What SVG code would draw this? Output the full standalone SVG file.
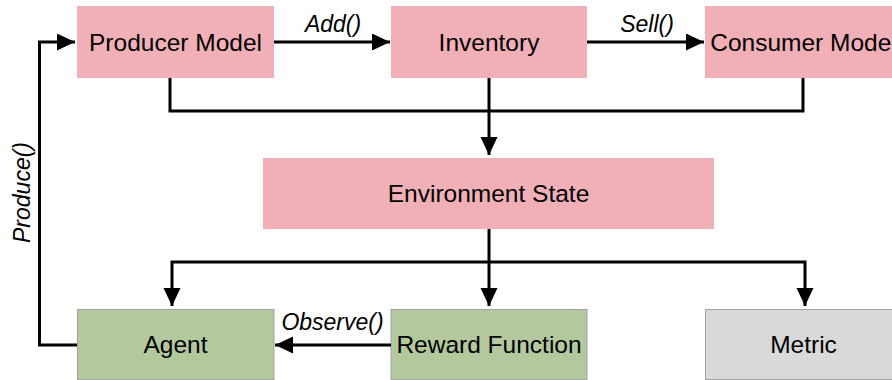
<svg xmlns="http://www.w3.org/2000/svg" width="892" height="380" viewBox="0 0 892 380">
<style>
.pink{fill:#f1b0b7;stroke:none}
.green{fill:#b3c99d;stroke:#a3a3a3;stroke-width:1}
.gray{fill:#d9d9d9;stroke:#a3a3a3;stroke-width:1}
.lbl{font-family:"Liberation Sans",Arial,sans-serif;font-size:24.5px;fill:#000;text-anchor:middle}
.edge{font-family:"Liberation Sans",Arial,sans-serif;font-size:23px;font-style:italic;fill:#000;text-anchor:middle}
.conn path{fill:none;stroke:#000;stroke-width:3}
</style>
<defs>
<marker id="arr" markerUnits="userSpaceOnUse" markerWidth="19" markerHeight="18" refX="18" refY="8.5" orient="auto">
<path d="M0,0 L18,8.5 L0,17 z" fill="#000"/>
</marker>
</defs>
<rect width="892" height="380" fill="#fff"/>
<g id="producer"><rect class="pink" x="77" y="6" width="197" height="72"/><text class="lbl" x="175.5" y="51">Producer Model</text></g>
<g id="inventory"><rect class="pink" x="391" y="6" width="196" height="72"/><text class="lbl" x="489" y="51">Inventory</text></g>
<g id="consumer"><rect class="pink" x="705" y="6" width="197" height="72"/><text class="lbl" x="803.5" y="51">Consumer Model</text></g>
<g id="env"><rect class="pink" x="263" y="158" width="451" height="71"/><text class="lbl" x="488.5" y="202">Environment State</text></g>
<g id="agent"><rect class="green" x="77.5" y="309.5" width="196.5" height="70"/><text class="lbl" x="175.5" y="353">Agent</text></g>
<g id="reward"><rect class="green" x="391" y="309.5" width="196" height="70"/><text class="lbl" x="489" y="353">Reward Function</text></g>
<g id="metric"><rect class="gray" x="705.5" y="309.5" width="197" height="70"/><text class="lbl" x="803.5" y="353">Metric</text></g>
<g id="connectors" class="conn">
<path d="M274,42 H390" marker-end="url(#arr)"/>
<path d="M587,42 H704" marker-end="url(#arr)"/>
<path d="M77,345 H39.5 V42 H75" marker-end="url(#arr)"/>
<path d="M170,78 V111 H489"/>
<path d="M803,78 V111 H489"/>
<path d="M489,78 V155" marker-end="url(#arr)"/>
<path d="M489,229 V306" marker-end="url(#arr)"/>
<path d="M489,262 H172 V306" marker-end="url(#arr)"/>
<path d="M489,262 H805 V306" marker-end="url(#arr)"/>
<path d="M391,345 H275" marker-end="url(#arr)"/>
</g>
<g id="labels">
<text class="edge" x="333" y="32">Add()</text>
<text class="edge" x="647" y="32">Sell()</text>
<text class="edge" x="332.5" y="330">Observe()</text>
<text class="edge" transform="translate(30,192.5) rotate(-90)" x="0" y="0">Produce()</text>
</g>
</svg>
